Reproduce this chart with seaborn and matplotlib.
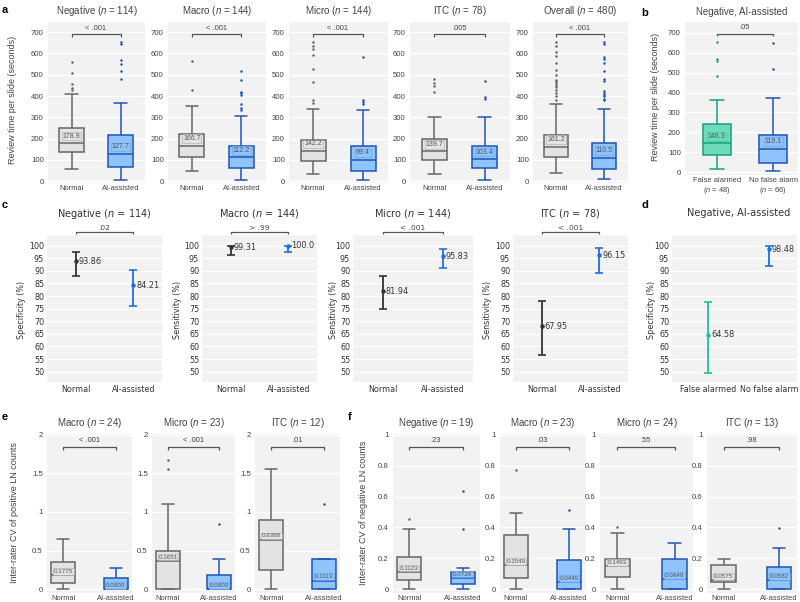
import numpy as np
import pandas as pd
import seaborn as sns
import matplotlib
matplotlib.use('Agg')
import matplotlib.pyplot as plt

# ---------------------------------- data ----------------------------------
groups = ['Normal', 'AI-assisted']

# a: review time per slide, boxes as [low whisker, q1, median, q3, high whisker]
a_titles = ['Negative', 'Macro', 'Micro', 'ITC', 'Overall']
a_n = [114, 144, 144, 78, 480]
a_normal = [[57, 138, 178.9, 248, 410], [47, 113, 166.7, 220, 355], [32, 96, 142.2, 193, 339],
            [33, 99, 139.7, 196, 303], [36, 112, 161.2, 216, 362]]
a_ai = [[5, 65, 127.7, 217, 366], [5, 60, 112.2, 166, 306], [5, 49, 99.4, 165, 333],
        [5, 60, 103.4, 166, 300], [8, 58, 110.5, 177, 341]]
a_normal_out = [[560, 510, 458, 440, 430], [566, 429], [652, 633, 621, 591, 528, 465, 382, 366],
                [478, 462, 445, 420],
                [652, 633, 605, 586, 555, 523, 500, 477, 469, 461, 452, 442, 430, 414, 398, 383]]
a_ai_out = [[652, 645, 569, 551, 517, 479], [519, 476, 421, 413, 405, 363, 343, 335],
            [585, 380, 372, 362], [471, 397, 385],
            [652, 645, 585, 572, 555, 519, 478, 470, 422, 414, 405, 398, 388, 380]]
a_p = ['< .001', '< .001', '< .001', '.005', '< .001']

# b: negative slides, AI-assisted
b_groups = ['False alarmed', 'No false alarm']
b_n = [48, 66]
b_box = [[17, 87, 146.3, 242, 362], [7, 45, 119.1, 187, 372]]
b_out = [[652, 570, 557, 482], [648, 517]]
b_p = '.05'

# c: specificity / sensitivity with 95% CI
c_titles = ['Negative', 'Macro', 'Micro', 'ITC']
c_n = [114, 144, 144, 78]
c_ylabels = ['Specificity (%)', 'Sensitivity (%)', 'Sensitivity (%)', 'Sensitivity (%)']
c_est_normal = [93.86, 99.31, 81.94, 67.95]
c_lo_normal = [88.0, 96.3, 74.8, 56.5]
c_hi_normal = [97.6, 99.9, 88.0, 78.0]
c_est_ai = [84.21, 100.0, 95.83, 96.15]
c_lo_ai = [76.2, 97.5, 91.3, 89.3]
c_hi_ai = [90.4, 100.0, 98.6, 99.2]
c_p = ['.02', '> .99', '< .001', '< .001']

# d: specificity, negative AI-assisted
d_est = [64.58, 98.48]
d_lo = [49.4, 92.0]
d_hi = [77.8, 99.9]

# e: inter-rater CV of positive LN counts
e_titles = ['Macro', 'Micro', 'ITC']
e_n = [24, 23, 12]
e_normal = [[0, 0.078, 0.1775, 0.346, 0.648], [0, 0, 0.3651, 0.49, 1.10], [0, 0.246, 0.6388, 0.899, 1.551]]
e_ai = [[0, 0, 0.0, 0.143, 0.268], [0, 0, 0.0, 0.186, 0.39], [0, 0, 0.1113, 0.393, 0.393]]
e_normal_out = [[], [1.676, 1.551], []]
e_ai_out = [[], [0.842], [1.10]]
e_p = ['< .001', '< .001', '.01']

# f: inter-rater CV of negative LN counts
f_titles = ['Negative', 'Macro', 'Micro', 'ITC']
f_n = [19, 23, 24, 13]
f_normal = [[0, 0.058, 0.1123, 0.21, 0.387], [0, 0.076, 0.1549, 0.35, 0.492],
            [0, 0.078, 0.1493, 0.197, 0.367], [0, 0.05, 0.0575, 0.156, 0.197]]
f_ai = [[0, 0.032, 0.0728, 0.11, 0.14], [0, 0, 0.0445, 0.188, 0.387],
        [0, 0, 0.0649, 0.197, 0.298], [0, 0, 0.0582, 0.143, 0.266]]
f_normal_out = [[0.454], [0.775], [0.404], []]
f_ai_out = [[0.633, 0.387], [0.514], [], [0.395]]
f_p = ['.23', '.03', '.55', '.98']

# ---------------------------------- style ----------------------------------
GRAY_FACE, GRAY_EDGE = '#e3e3e3', '#666666'
BLUE_FACE, BLUE_EDGE = '#8ec4fb', '#1f55b5'
TEAL_FACE, TEAL_EDGE = '#6edcbc', '#17a07c'
C_NORMAL, C_AI, C_TEAL = '#333333', '#1f6fe0', '#19c49a'
BG = '#f2f2f2'
TXT = '#444444'

sns.set_theme(style='whitegrid', rc={'axes.facecolor': BG, 'grid.color': 'white'})
plt.rcParams['font.family'] = ['Liberation Sans', 'DejaVu Sans']
plt.rcParams['mathtext.fontset'] = 'custom'
plt.rcParams['mathtext.it'] = 'Liberation Sans:italic'
plt.rcParams['mathtext.rm'] = 'Liberation Sans'

W, H = 800, 602
fig = plt.figure(figsize=(8, 6.02), dpi=100)
fig.patch.set_facecolor('white')


def add_ax(xs, ys):
    x0, x1 = xs
    y0, y1 = ys
    return fig.add_axes([x0 / W, 1 - y1 / H, (x1 - x0) / W, (y1 - y0) / H])


def fig_text(x, y, s, **kw):
    fig.text(x / W, 1 - y / H, s, ha='center', va='center', **kw)


def style_box_axes(ax, ylim, xlim, yticks, ylabels):
    ax.set_facecolor(BG)
    ax.set_xlim(*xlim)
    ax.set_ylim(*ylim)
    ax.set_yticks(yticks)
    ax.set_yticklabels(ylabels)
    ax.grid(axis='y', color='white', lw=1)
    ax.grid(axis='x', visible=False)
    for s in ax.spines.values():
        s.set_visible(False)
    ax.tick_params(axis='y', length=0, labelsize=5.6, colors=TXT, pad=3)
    ax.tick_params(axis='x', length=0, labelsize=5.4, colors=TXT, pad=1.5)
    ax.set_xlabel('')
    ax.set_ylabel('')


def box_panel(ax, order, stats, outs, faces, edges, width, fmt, lab_fs, lab_off, lab_edges):
    for grp, st, out, fc, ec, le in zip(order, stats, outs, faces, edges, lab_edges):
        sns.boxplot(x=[grp] * len(st), y=st, order=order, color=fc, saturation=1, linecolor=ec,
                    linewidth=1.1, width=width, whis=(0, 100), showfliers=False, ax=ax)
        if len(out):
            sns.stripplot(x=[grp] * len(out), y=out, order=order, color=ec, jitter=False,
                          size=1.8, ax=ax)
        i = order.index(grp)
        ax.annotate(fmt.format(st[2]), (i, st[2]), xytext=(0, lab_off), textcoords='offset points',
                    ha='center', va='bottom', fontsize=lab_fs, color='#555555', zorder=5,
                    bbox=dict(boxstyle='square,pad=0.12', fc=fc, ec=le, lw=0.4))


def bracket(ax, y, tick, gap, text, fs, family=None):
    ax.plot([0, 0, 1, 1], [y - tick, y, y, y - tick], color='#555555', lw=0.9,
            clip_on=False, solid_capstyle='butt', zorder=6)
    kw = {} if family is None else {'family': family}
    ax.text(0.5, y + gap, text, ha='center', va='bottom', fontsize=5.4, color=TXT,
            clip_on=False, **kw)


def ci_panel(ax, order, est, lo, hi, colors):
    sns.pointplot(x=order, y=est, order=order, hue=order, palette=colors, errorbar=None,
                  markers='o', linestyle='none', legend=False, ax=ax)
    for line in ax.lines:
        line.set_markersize(3.2)
        line.set_markeredgewidth(0)
        line.set_zorder(4)
    for i, (e, l, h, c) in enumerate(zip(est, lo, hi, colors)):
        ax.errorbar(i, e, yerr=[[e - l], [h - e]], fmt='none', ecolor=c, elinewidth=1.3,
                    capsize=2.6, capthick=1.2, zorder=3)
        ax.text(i + 0.05, e, str(round(e, 2)), ha='left', va='center', fontsize=5.9,
                color='#333333', family='DejaVu Sans')
    ax.set_facecolor(BG)
    ax.set_ylim(45.9, 104.2)
    ax.set_yticks(np.arange(50, 101, 5))
    ax.grid(axis='y', color='white', lw=0.9)
    ax.grid(axis='x', visible=False)
    for s in ax.spines.values():
        s.set_visible(False)
    ax.tick_params(axis='both', length=0, labelsize=5.8, colors='#333333', pad=2)
    for lab in ax.get_xticklabels() + ax.get_yticklabels():
        lab.set_fontfamily('DejaVu Sans')
    ax.set_xlabel('')
    ax.set_ylabel('')


# ---------------------------------- row a / b ----------------------------------
a_x = [(48, 145), (168, 266), (289, 388), (410, 510), (533, 628)]
a_y = (22, 183)
for k in range(5):
    ax = add_ax(a_x[k], a_y)
    box_panel(ax, groups, [a_normal[k], a_ai[k]], [a_normal_out[k], a_ai_out[k]],
              [GRAY_FACE, BLUE_FACE], [GRAY_EDGE, BLUE_EDGE], 0.5, '{:.1f}', 5, 2.5,
              ['#aaaaaa', '#6a9ee0'])
    style_box_axes(ax, (-9, 748), (-0.48, 1.5), np.arange(0, 701, 100),
                   [str(v) for v in range(0, 701, 100)])
    bracket(ax, 690, 12, 12, a_p[k], 5.4)
    fig_text(sum(a_x[k]) / 2, 11, '%s ($n$ = %d)' % (a_titles[k], a_n[k]), fontsize=7, color=TXT)
fig_text(13, 100, 'Review time per slide (seconds)', rotation=90, fontsize=6.5, color=TXT)

b_x, b_y = (685, 798), (22, 175)
ax = add_ax(b_x, b_y)
box_panel(ax, b_groups, b_box, b_out, [TEAL_FACE, BLUE_FACE], [TEAL_EDGE, BLUE_EDGE],
          0.5, '{:.1f}', 5, 2.5, ['#3fbf98', '#6a9ee0'])
style_box_axes(ax, (-13, 753), (-0.56, 1.44), np.arange(0, 701, 100),
               [str(v) for v in range(0, 701, 100)])
ax.set_xticks([0, 1])
ax.set_xticklabels(['%s\n($n$ = %d)' % (g, n) for g, n in zip(b_groups, b_n)], linespacing=1.1)
bracket(ax, 695, 12, 12, b_p, 5.4)
fig_text(sum(b_x) / 2, 12, 'Negative, AI-assisted', fontsize=7, color=TXT)
fig_text(655, 97, 'Review time per slide (seconds)', rotation=90, fontsize=6.5, color=TXT)

# ---------------------------------- row c / d ----------------------------------
c_x = [(47, 162), (202, 317), (353, 473), (513, 628)]
c_y = (235, 382)
c_ylab_x = [22, 178, 333, 488]
for k in range(4):
    ax = add_ax(c_x[k], c_y)
    ci_panel(ax, groups, [c_est_normal[k], c_est_ai[k]], [c_lo_normal[k], c_lo_ai[k]],
             [c_hi_normal[k], c_hi_ai[k]], [C_NORMAL, C_AI])
    ax.set_xlim(-0.5, 1.5)
    bracket(ax, 105.3, 0.8, 0.55, c_p[k], 5.4, family='DejaVu Sans')
    fig_text(sum(c_x[k]) / 2, 214, '%s ($n$ = %d)' % (c_titles[k], c_n[k]), fontsize=7,
             color='#333333', family='DejaVu Sans', math_fontfamily='dejavusans')
    fig_text(c_ylab_x[k], 310, c_ylabels[k], rotation=90, fontsize=5.8, color='#333333',
             family='DejaVu Sans')

d_x = (672, 797)
ax = add_ax(d_x, c_y)
ci_panel(ax, b_groups, d_est, d_lo, d_hi, [C_TEAL, C_AI])
ax.set_xlim(-0.59, 1.46)
fig_text(739, 213, 'Negative, AI-assisted', fontsize=7, color='#333333', family='DejaVu Sans')
fig_text(652, 310, 'Specificity (%)', rotation=90, fontsize=5.8, color='#333333',
         family='DejaVu Sans')

# ---------------------------------- row e / f ----------------------------------
e_x = [(47, 132), (152, 235), (255, 340)]
ef_y = (434, 593)
for k in range(3):
    ax = add_ax(e_x[k], ef_y)
    box_panel(ax, groups, [e_normal[k], e_ai[k]], [e_normal_out[k], e_ai_out[k]],
              [GRAY_FACE, BLUE_FACE], [GRAY_EDGE, BLUE_EDGE], 0.46, '{:.4f}', 4.5, 1,
              ['#aaaaaa', '#6a9ee0'])
    style_box_axes(ax, (-0.05, 2.01), (-0.31, 1.31), [0, 0.5, 1, 1.5, 2],
                   ['0', '0.5', '1', '1.5', '2'])
    bracket(ax, 1.84, 0.04, 0.035, e_p[k], 5.4)
    fig_text(sum(e_x[k]) / 2, 423, '%s ($n$ = %d)' % (e_titles[k], e_n[k]), fontsize=7, color=TXT)
fig_text(15, 513, 'Inter-rater CV of positive LN counts', rotation=90, fontsize=6.5, color=TXT)

f_x = [(393, 480), (500, 586), (600, 693), (707, 797)]
for k in range(4):
    ax = add_ax(f_x[k], ef_y)
    box_panel(ax, groups, [f_normal[k], f_ai[k]], [f_normal_out[k], f_ai_out[k]],
              [GRAY_FACE, BLUE_FACE], [GRAY_EDGE, BLUE_EDGE], 0.44, '{:.4f}', 4.5, 1,
              ['#aaaaaa', '#6a9ee0'])
    style_box_axes(ax, (-0.024, 1.005), (-0.3, 1.32), [0, 0.2, 0.4, 0.6, 0.8, 1],
                   ['0', '0.2', '0.4', '0.6', '0.8', '1'])
    bracket(ax, 0.92, 0.02, 0.018, f_p[k], 5.4)
    fig_text(sum(f_x[k]) / 2, 423, '%s ($n$ = %d)' % (f_titles[k], f_n[k]), fontsize=7, color=TXT)
fig_text(363, 513, 'Inter-rater CV of negative LN counts', rotation=90, fontsize=6.5, color=TXT)

# ---------------------------------- panel letters ----------------------------------
for letter, (x, y) in zip('abcdef', [(5, 10), (645, 13), (5, 205), (645, 205), (5, 417), (350, 417)]):
    fig_text(x, y, letter, fontsize=8, weight='bold', color='black')

fig.savefig('out.png', dpi=100)
